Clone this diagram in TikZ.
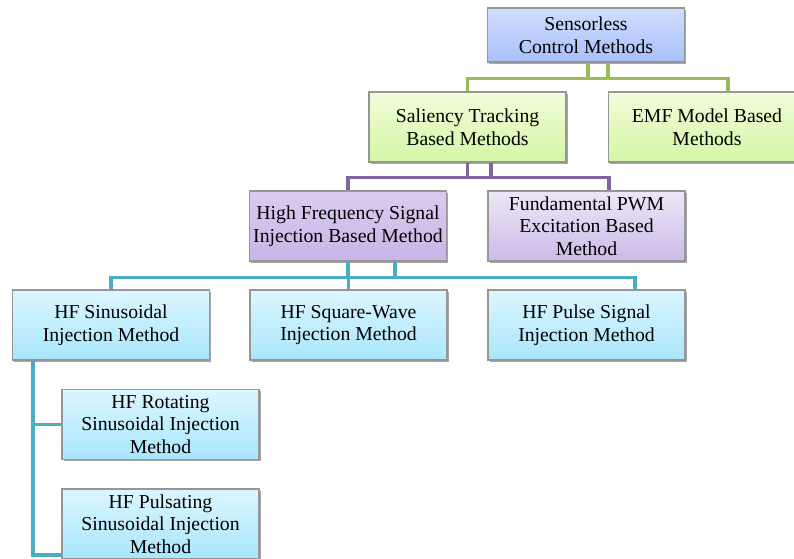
\documentclass[tikz,border=0pt]{standalone}
\usepackage{fontspec}
\setmainfont{Liberation Serif}
\usetikzlibrary{calc,shadows}

\definecolor{gLine}{RGB}{155,187,89}
\definecolor{pLine}{RGB}{128,100,162}
\definecolor{cLine}{RGB}{75,172,198}
\definecolor{boxEdge}{RGB}{150,150,150}

\begin{document}
\begin{tikzpicture}[x=0.75pt,y=0.75pt,yscale=-1,xscale=1,
    methodbox/.style={draw=boxEdge,line width=0.8pt,align=center,inner sep=1pt,
        minimum width=147.75pt,minimum height=52.5pt,
        font=\fontsize{14.8}{17}\selectfont,
        drop shadow={shadow xshift=1.2pt,shadow yshift=-1.2pt,opacity=0.35,fill=black}},
    bluebox/.style={methodbox,top color={rgb,255:red,208;green,221;blue,253},bottom color={rgb,255:red,168;green,192;blue,250}},
    greenbox/.style={methodbox,top color={rgb,255:red,241;green,253;blue,218},bottom color={rgb,255:red,212;green,246;blue,165}},
    purplebox/.style={methodbox,top color={rgb,255:red,218;green,204;blue,239},bottom color={rgb,255:red,200;green,180;blue,230}},
    lilacbox/.style={methodbox,top color={rgb,255:red,237;green,231;blue,247},bottom color={rgb,255:red,204;green,186;blue,232}},
    cyanbox/.style={methodbox,top color={rgb,255:red,221;green,246;blue,255},bottom color={rgb,255:red,168;green,230;blue,251}},
    gline/.style={draw=gLine,line width=2.8pt},
    pline/.style={draw=pLine,line width=2.8pt},
    cline/.style={draw=cLine,line width=2.8pt}]
                \useasboundingbox (0,0) rectangle (794,559);

                % Text Node
                \node[bluebox,minimum height=40.5pt] (scm) at (586,35) {Sensorless\\Control Methods};
                % Text Node
                \node[greenbox] (stb) at (467.5,127) {Saliency Tracking\\Based Methods};
                % Text Node
                \node[greenbox] (emf) at (707,127) {EMF Model Based\\Methods};
                % Text Node
                \node[purplebox] (hfi) at (348,226) {High Frequency Signal\\Injection Based Method};
                % Text Node
                \node[lilacbox] (fpw) at (586.5,226) {Fundamental PWM\\Excitation Based\\Method};
                % Text Node
                \node[cyanbox] (hsi) at (111,325) {HF Sinusoidal\\Injection Method};
                % Text Node
                \node[cyanbox] (hsq) at (348.5,325) {HF Square-Wave\\Injection Method};
                % Text Node
                \node[cyanbox] (hps) at (586.5,325) {HF Pulse Signal\\Injection Method};
                % Text Node
                \node[cyanbox] (hrs) at (160.5,424.5) {HF Rotating\\Sinusoidal Injection\\Method};
                % Text Node
                \node[cyanbox] (hpl) at (160.5,524) {HF Pulsating\\Sinusoidal Injection\\Method};

                %Straight Lines (green)
                \draw[gline] ($(scm.south)+(2,0)$) -- ++(0,17);
                \draw[gline] ($(scm.south)+(22,0)$) -- ++(0,17);
                \draw[gline] (stb.north) -- ++(0,-13) -| ($(emf.north)+(21,0)$);
                %Straight Lines (purple)
                \draw[pline] (stb.south) -- ++(0,16);
                \draw[pline] ($(stb.south)+(23.5,0)$) -- ++(0,16);
                \draw[pline] (hfi.north) -- ++(0,-13) -| ($(fpw.north)+(22.5,0)$);
                %Straight Lines (cyan)
                \draw[cline] (hfi.south) -- ++(0,17);
                \draw[cline] ($(hfi.south)+(47,0)$) -- ++(0,17);
                \draw[cline] (hsi.north) -- ++(0,-12) -| ($(hps.north)+(48.5,0)$);
                \draw[cline] (hsq.north) -- ++(0,-12);
                \coordinate (lft) at ($(hsi.south)+(-78,0)$);
                \draw[cline] (lft) |- (hrs.west);
                \draw[cline] (lft) |- ($(hpl.west)+(0,31)$);

                \end{tikzpicture}
\end{document}
